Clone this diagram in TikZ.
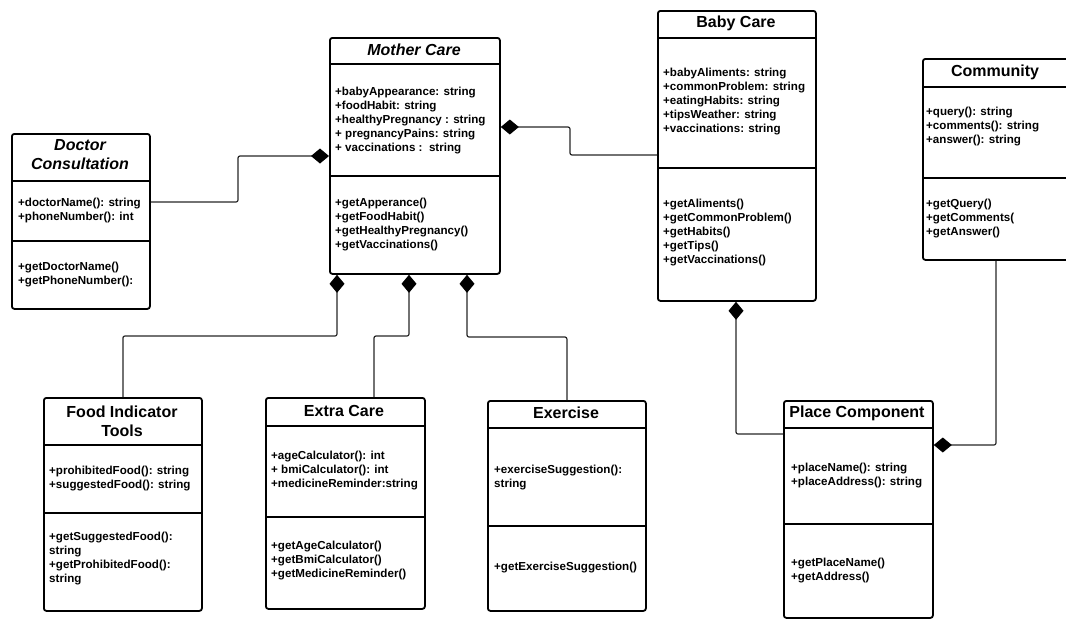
\documentclass[tikz,border=0pt]{standalone}
\usepackage{fontspec}
\setmainfont{Liberation Sans}
\usetikzlibrary{arrows.meta}

\begin{document}
\begin{tikzpicture}[x = 1pt, y = -1pt,
    box/.style = {draw, line width = 1.8pt, rounded corners = 2.5pt, anchor = north west, inner sep = 0pt},
    bar/.style = {line width = 1.8pt},
    title/.style = {font = \fontsize{16}{19}\selectfont\bfseries, align = center, inner sep = 0pt},
    members/.style = {font = \fontsize{11.6}{14}\selectfont\bfseries, align = left, anchor = north west, inner sep = 0pt},
    link/.style = {line width = 1.2pt, black!85, rounded corners = 2pt, -{Diamond[length = 18pt, width = 15pt, color = black]}}]

    \useasboundingbox (0,0) rectangle (1066,619);

    % Doctor Consultation
    \node[box, minimum width = 138pt, minimum height = 175pt] (doctor) at (11,133) {};
    \draw[bar] (doctor.west |- 0,181) -- (doctor.east |- 0,181);
    \draw[bar] (doctor.west |- 0,241) -- (doctor.east |- 0,241);
    \node[title] (doctortitle) at (80,155) {\itshape Doctor\\\itshape Consultation};
    \node[members] (doctorattr) at (18,198) {+doctorName(): string\\+phoneNumber(): int};
    \node[members] (doctorops) at (18,262) {+getDoctorName()\\+getPhoneNumber():};

    % Mother Care
    \node[box, minimum width = 170pt, minimum height = 236pt] (mother) at (329,37) {};
    \draw[bar] (mother.west |- 0,64) -- (mother.east |- 0,64);
    \draw[bar] (mother.west |- 0,176) -- (mother.east |- 0,176);
    \node[title] (mothertitle) at (414,50) {\itshape Mother Care};
    \node[members] (motherattr) at (335,87) {+babyAppearance: string\\+foodHabit: string\\+healthyPregnancy : string\\+ pregnancyPains: string\\+ vaccinations :\ \ string};
    \node[members] (motherops) at (335,198) {+getApperance()\\+getFoodHabit()\\+getHealthyPregnancy()\\+getVaccinations()};

    % Baby Care
    \node[box, minimum width = 158pt, minimum height = 290pt] (baby) at (657,10) {};
    \draw[bar] (baby.west |- 0,38) -- (baby.east |- 0,38);
    \draw[bar] (baby.west |- 0,168) -- (baby.east |- 0,168);
    \node[title] (babytitle) at (736,23) {Baby Care};
    \node[members] (babyattr) at (663,68) {+babyAliments: string\\+commonProblem: string\\+eatingHabits: string\\+tipsWeather: string\\+vaccinations: string};
    \node[members] (babyops) at (663,199) {+getAliments()\\+getCommonProblem()\\+getHabits()\\+getTips()\\+getVaccinations()};

    % Community
    \node[box, minimum width = 146pt, minimum height = 201pt] (community) at (922,58) {};
    \draw[bar] (community.west |- 0,87) -- (community.east |- 0,87);
    \draw[bar] (community.west |- 0,178) -- (community.east |- 0,178);
    \node[title] (communitytitle) at (995,72) {Community};
    \node[members] (communityattr) at (926,107) {+query(): string\\+comments(): string\\+answer(): string};
    \node[members] (communityops) at (926,199) {+getQuery()\\+getComments(\\+getAnswer()};

    % Food Indicator Tools
    \node[box, minimum width = 158pt, minimum height = 213pt] (food) at (43,397) {};
    \draw[bar] (food.west |- 0,445) -- (food.east |- 0,445);
    \draw[bar] (food.west |- 0,513) -- (food.east |- 0,513);
    \node[title] (foodtitle) at (122,421) {Food Indicator\\Tools};
    \node[members] (foodattr) at (49,466) {+prohibitedFood(): string\\+suggestedFood(): string};
    \node[members] (foodops) at (49,532) {+getSuggestedFood():\\string\\+getProhibitedFood():\\string};

    % Extra Care
    \node[box, minimum width = 159pt, minimum height = 211pt] (extra) at (265,397) {};
    \draw[bar] (extra.west |- 0,426) -- (extra.east |- 0,426);
    \draw[bar] (extra.west |- 0,517) -- (extra.east |- 0,517);
    \node[title] (extratitle) at (344,411) {Extra Care};
    \node[members] (extraattr) at (271,451) {+ageCalculator(): int\\+ bmiCalculator(): int\\+medicineReminder:string};
    \node[members] (extraops) at (271,541) {+getAgeCalculator()\\+getBmiCalculator()\\+getMedicineReminder()};

    % Exercise
    \node[box, minimum width = 158pt, minimum height = 210pt] (exercise) at (487,400) {};
    \draw[bar] (exercise.west |- 0,428) -- (exercise.east |- 0,428);
    \draw[bar] (exercise.west |- 0,526) -- (exercise.east |- 0,526);
    \node[title] (exercisetitle) at (566,413) {Exercise};
    \node[members] (exerciseattr) at (494,465) {+exerciseSuggestion():\\string};
    \node[members] (exerciseops) at (494,562) {+getExerciseSuggestion()};

    % Place Component
    \node[box, minimum width = 149pt, minimum height = 217pt] (place) at (783,400) {};
    \draw[bar] (place.west |- 0,428) -- (place.east |- 0,428);
    \draw[bar] (place.west |- 0,524) -- (place.east |- 0,524);
    \node[title] (placetitle) at (857,413) {Place Component};
    \node[members] (placeattr) at (791,463) {+placeName(): string\\+placeAddress(): string};
    \node[members] (placeops) at (791,558) {+getPlaceName()\\+getAddress()};

    % compositions
    \draw[link] (doctor.east |- 0,202) -- (238,202) -- (238,156) -- (mother.west |- 0,156);
    \draw[link] (baby.west |- 0,155) -- (570,155) -- (570,127) -- (mother.east |- 0,127);
    \draw[link] (food.north) -- (food.north |- 0,336) -- (337,336) -- (mother.south -| 337,0);
    \draw[link] (extra.north -| 374,0) -- (374,336) -- (409,336) -- (mother.south -| 409,0);
    \draw[link] (exercise.north) -- (exercise.north |- 0,337) -- (467,337) -- (mother.south -| 467,0);
    \draw[link] (place.west |- 0,434) -- (736,434) -- (baby.south -| 736,0);
    \draw[link] (community.south -| 996,0) -- (996,445) -- (place.east |- 0,445);
\end{tikzpicture}
\end{document}
